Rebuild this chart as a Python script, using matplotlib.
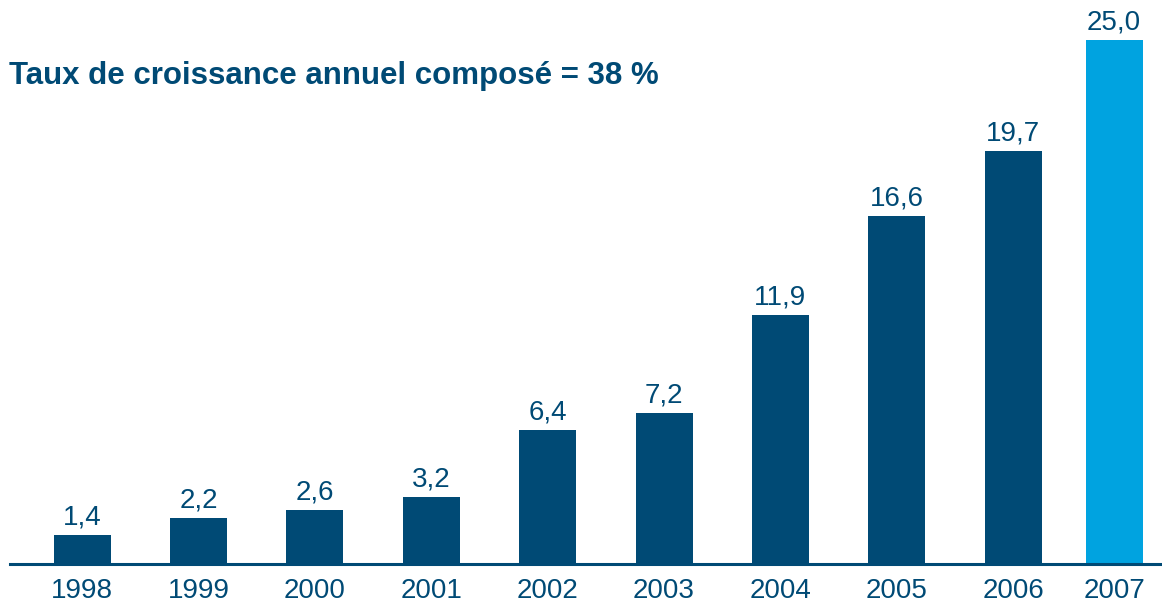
import matplotlib
matplotlib.use("Agg")
import matplotlib.pyplot as plt
import numpy as np

years = ["1998", "1999", "2000", "2001", "2002", "2003", "2004", "2005", "2006", "2007"]
values = [1.4, 2.2, 2.6, 3.2, 6.4, 7.2, 11.9, 16.6, 19.7, 25.0]
labels = ["1,4", "2,2", "2,6", "3,2", "6,4", "7,2", "11,9", "16,6", "19,7", "25,0"]
title = "Taux de croissance annuel composé = 38 %"

dark = "#004a75"
light = "#00a3e0"
plt.rcParams['font.family'] = ['Liberation Sans', 'DejaVu Sans']

fig = plt.figure(figsize=(11.62, 6.06), dpi=100)
ax = fig.add_axes([10/1162, 42/606, 1152/1162, 524/606])

pos = np.arange(len(years), dtype=float)
pos[-1] = 8.866
colors = [dark] * (len(years) - 1) + [light]
ax.bar(pos, values, width=0.49, color=colors)
for p, v, l in zip(pos, values, labels):
    ax.annotate(l, (p, v), xytext=(0, 3), textcoords="offset points",
                ha="center", va="bottom", fontsize=20, color=dark, annotation_clip=False)

ax.set_xlim(-0.619, 9.278)
ax.set_ylim(0, 25)
for s in ["top", "right", "left"]:
    ax.spines[s].set_visible(False)
ax.spines["bottom"].set_color(dark)
ax.spines["bottom"].set_linewidth(2.2)
ax.set_yticks([])
ax.set_xticks(pos)
ax.set_xticklabels(years, fontsize=20, color=dark)
ax.tick_params(axis="x", length=0, pad=10)

fig.text(9/1162, 1 - 84/606, title, fontsize=22.5, fontweight="bold", color=dark,
         ha="left", va="baseline")

fig.savefig("out.png", dpi=100)
